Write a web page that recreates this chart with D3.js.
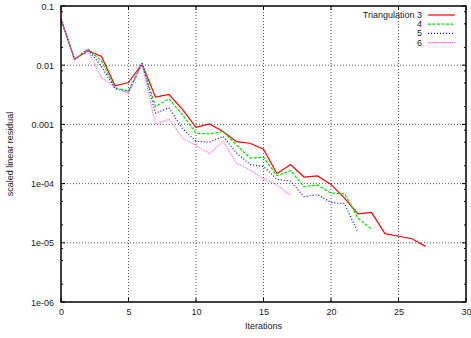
<!DOCTYPE html>
<html>
<head>
<meta charset="utf-8">
<script src="https://cdn.jsdelivr.net/npm/d3@7"></script>
<style>
  body { margin: 0; background: #fff; }
  text { font-family: "Liberation Sans", Arial, sans-serif; font-size: 9px; fill: #222; }
</style>
</head>
<body>
<svg width="471" height="338"></svg>
<script>
'use strict';

// residual per iteration, one array per triangulation level
const tri3 = [0.06, 0.0126, 0.0176, 0.014, 0.0045, 0.0051, 0.0105, 0.0029, 0.0032, 0.0018,
  0.00089, 0.00102, 0.00076, 0.00051, 0.00048, 0.00038, 0.000147, 0.00021, 0.000129, 0.000135,
  0.000097, 0.000057, 0.0000307, 0.0000325, 0.0000143, 0.0000129, 0.0000117, 0.0000087];
const tri4 = [0.06, 0.0126, 0.0186, 0.0118, 0.0041, 0.0037, 0.0105, 0.0020, 0.0027, 0.00145,
  0.00071, 0.00069, 0.00076, 0.00045, 0.00027, 0.00028, 0.000135, 0.000166, 0.000089, 0.000095,
  0.000069, 0.000068, 0.000026, 0.000017];
const tri5 = [0.06, 0.0126, 0.0186, 0.0095, 0.0040, 0.0035, 0.0108, 0.00155, 0.0019, 0.00085,
  0.00052, 0.0005, 0.00063, 0.00033, 0.00021, 0.000195, 0.000118, 0.00011, 0.00006, 0.000065,
  0.000048, 0.000046, 0.000015];
const tri6 = [0.06, 0.0126, 0.0178, 0.0061, 0.0043, 0.0033, 0.0105, 0.001, 0.00123, 0.00059,
  0.00044, 0.00032, 0.00052, 0.00022, 0.00017, 0.00012, 0.000095, 0.000063];

const seriesNames = ['Triangulation 3', '4', '5', '6'];
const xTicks = [0, 5, 10, 15, 20, 25, 30];
const yTicks = [1e-6, 1e-5, 1e-4, 1e-3, 1e-2, 1e-1];
const yTickLabels = ['1e-06', '1e-05', '1e-04', '0.001', '0.01', '0.1'];

const styles = [
  { color: '#ff0000', dash: null, w: 1.2 },
  { color: '#00e000', dash: '3,1.5', w: 1.2 },
  { color: '#0000ff', dash: '1,2', w: 1.2 },
  { color: '#ff66ff', dash: '1,1', w: 1.2 }
];

const svg = d3.select('svg');
const width = +svg.attr('width');
const height = +svg.attr('height');
const margin = { top: 6, right: 5, bottom: 36, left: 61 };
const innerWidth = width - margin.left - margin.right;
const innerHeight = height - margin.top - margin.bottom;

const xScale = d3.scaleLinear().domain([0, 30]).range([0, innerWidth]);
const yScale = d3.scaleLog().domain([1e-6, 0.1]).range([innerHeight, 0]);

const g = svg.append('g')
  .attr('transform', `translate(${margin.left},${margin.top})`);

// grid
g.append('g').selectAll('line').data(xTicks.slice(1, -1))
  .enter().append('line')
    .attr('x1', d => xScale(d)).attr('x2', d => xScale(d))
    .attr('y1', 0).attr('y2', innerHeight)
    .attr('stroke', '#555').attr('stroke-dasharray', '1,2');
g.append('g').selectAll('line').data(yTicks.slice(1, -1))
  .enter().append('line')
    .attr('y1', d => yScale(d)).attr('y2', d => yScale(d))
    .attr('x1', 0).attr('x2', innerWidth)
    .attr('stroke', '#555').attr('stroke-dasharray', '1,2');

// ticks inward on all four sides
const minor = [];
yTicks.slice(0, -1).forEach(t => [2, 5, 8].forEach(m => minor.push(t * m)));

const tickG = g.append('g').attr('stroke', '#000');
xTicks.forEach(t => {
  tickG.append('line').attr('x1', xScale(t)).attr('x2', xScale(t))
    .attr('y1', innerHeight).attr('y2', innerHeight - 4);
  tickG.append('line').attr('x1', xScale(t)).attr('x2', xScale(t))
    .attr('y1', 0).attr('y2', 4);
});
yTicks.forEach(t => {
  tickG.append('line').attr('y1', yScale(t)).attr('y2', yScale(t)).attr('x1', 0).attr('x2', 4);
  tickG.append('line').attr('y1', yScale(t)).attr('y2', yScale(t))
    .attr('x1', innerWidth).attr('x2', innerWidth - 4);
});
minor.forEach(t => {
  tickG.append('line').attr('y1', yScale(t)).attr('y2', yScale(t)).attr('x1', 0).attr('x2', 2);
  tickG.append('line').attr('y1', yScale(t)).attr('y2', yScale(t))
    .attr('x1', innerWidth).attr('x2', innerWidth - 2);
});

// tick labels via axes, lines hidden
const xAxisG = g.append('g')
  .attr('transform', `translate(0,${innerHeight})`)
  .call(d3.axisBottom(xScale).tickValues(xTicks).tickSize(0).tickPadding(7));
const yAxisG = g.append('g')
  .call(d3.axisLeft(yScale).tickValues(yTicks).tickSize(0).tickPadding(7)
    .tickFormat((d, i) => yTickLabels[i]));
[xAxisG, yAxisG].forEach(a => {
  a.select('.domain').remove();
  a.attr('font-family', null).attr('font-size', null);
  a.selectAll('text').attr('fill', null).attr('dy', null);
});
xAxisG.selectAll('text').attr('y', 13);
yAxisG.selectAll('text').attr('y', 3);

// series
const all = [tri3, tri4, tri5, tri6];
const line = d3.line().x((d, i) => xScale(i)).y(d => yScale(d));
all.forEach((data, k) => {
  g.append('path').datum(data)
    .attr('fill', 'none')
    .attr('stroke', styles[k].color)
    .attr('stroke-width', styles[k].w)
    .attr('stroke-dasharray', styles[k].dash)
    .attr('stroke-linejoin', 'miter')
    .attr('d', line);
});

// border
g.append('rect')
  .attr('width', innerWidth).attr('height', innerHeight)
  .attr('fill', 'none').attr('stroke', '#000').attr('stroke-width', 1.5);

// legend
const legend = g.append('g').attr('transform', `translate(${innerWidth - 44},9)`);
seriesNames.forEach((name, k) => {
  const row = legend.append('g').attr('transform', `translate(0,${k * 9.2})`);
  row.append('text').attr('x', 0).attr('y', 3).attr('text-anchor', 'end').text(name);
  row.append('line').attr('x1', 6).attr('x2', 33).attr('y1', 0).attr('y2', 0)
    .attr('stroke', styles[k].color)
    .attr('stroke-width', styles[k].w)
    .attr('stroke-dasharray', styles[k].dash);
});

// axis titles
g.append('text')
  .attr('x', innerWidth / 2).attr('y', innerHeight + 27)
  .attr('text-anchor', 'middle')
  .text('Iterations');
g.append('text')
  .attr('transform', 'rotate(-90)')
  .attr('x', -innerHeight / 2).attr('y', -48)
  .attr('text-anchor', 'middle')
  .text('scaled linear residual');
</script>
</body>
</html>
